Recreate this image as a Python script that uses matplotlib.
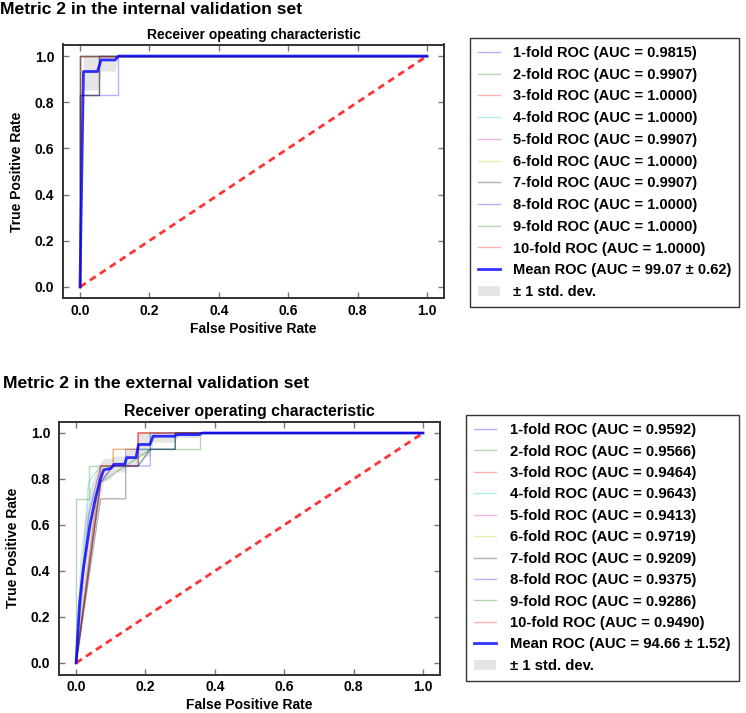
import matplotlib
matplotlib.use("Agg")
import matplotlib.pyplot as plt

plt.rcParams["font.family"] = ["Liberation Sans", "DejaVu Sans"]
plt.rcParams["font.weight"] = "bold"
plt.rcParams["axes.titleweight"] = "bold"
plt.rcParams["axes.labelweight"] = "bold"

W, H = 746, 713

# classic matplotlib colour cycle, one per fold
FOLD_COLORS = ["b", "g", "r", "c", "m", "y", "k", "b", "g", "r"]
CHANCE = [0.0, 1.0]

# ---- internal validation set ----
INT_AUC = [0.9815, 0.9907, 1.0000, 1.0000, 0.9907, 1.0000, 0.9907, 1.0000, 1.0000, 1.0000]
INT_FPR = [
    [0, 0, 0.111, 0.111, 1],
    [0, 0, 0.056, 0.056, 1],
    [0, 0, 1],
    [0, 0, 1],
    [0, 0, 0.056, 0.056, 1],
    [0, 0, 1],
    [0, 0, 0.056, 0.056, 1],
    [0, 0, 1],
    [0, 0, 1],
    [0, 0, 1],
]
INT_TPR = [
    [0, 0.833, 0.833, 1, 1],
    [0, 0.833, 0.833, 1, 1],
    [0, 1, 1],
    [0, 1, 1],
    [0, 0.833, 0.833, 1, 1],
    [0, 1, 1],
    [0, 0.833, 0.833, 1, 1],
    [0, 1, 1],
    [0, 1, 1],
    [0, 1, 1],
]
INT_MEAN_FPR = [0.0, 0.0101, 0.0505, 0.0606, 0.1010, 0.1111, 1.0]
INT_MEAN_TPR = [0.0, 0.933, 0.933, 0.983, 0.983, 1.0, 1.0]
INT_STD_LO = [0.0, 0.852, 0.852, 0.935, 0.935, 1.0, 1.0]
INT_STD_HI = [0.0, 1.0, 1.0, 1.0, 1.0, 1.0, 1.0]
INT_MEAN_AUC, INT_STD_AUC = 99.07, 0.62

# ---- external validation set ----
EXT_AUC = [0.9592, 0.9566, 0.9464, 0.9643, 0.9413, 0.9719, 0.9209, 0.9375, 0.9286, 0.9490]
EXT_FPR = [
    [0, 0.036, 0.071, 0.143, 0.143, 0.214, 0.214, 1],
    [0, 0, 0.036, 0.036, 0.179, 0.179, 0.357, 0.357, 1],
    [0, 0.071, 0.107, 0.107, 0.179, 0.179, 1],
    [0, 0.036, 0.071, 0.179, 0.214, 0.214, 1],
    [0, 0.071, 0.107, 0.179, 0.179, 1],
    [0, 0.071, 0.107, 0.107, 0.179, 0.179, 1],
    [0, 0.071, 0.143, 0.143, 0.179, 0.214, 0.286, 0.286, 1],
    [0, 0.071, 0.107, 0.214, 0.214, 0.286, 0.286, 1],
    [0, 0.071, 0.143, 0.214, 0.286, 0.286, 1],
    [0, 0.071, 0.071, 0.179, 0.179, 1],
]
EXT_TPR = [
    [0, 0.643, 0.857, 0.857, 0.929, 0.929, 1, 1],
    [0, 0.714, 0.714, 0.857, 0.857, 0.929, 0.929, 1, 1],
    [0, 0.857, 0.857, 0.929, 0.929, 1, 1],
    [0, 0.786, 0.857, 0.857, 0.929, 1, 1],
    [0, 0.786, 0.857, 0.857, 1, 1],
    [0, 0.857, 0.857, 0.929, 0.929, 1, 1],
    [0, 0.714, 0.714, 0.857, 0.857, 0.929, 0.929, 1, 1],
    [0, 0.786, 0.857, 0.857, 0.929, 0.929, 1, 1],
    [0, 0.786, 0.857, 0.929, 0.929, 1, 1],
    [0, 0.786, 0.857, 0.857, 1, 1],
]
EXT_MEAN_FPR = [0.0, 0.010, 0.020, 0.030, 0.040, 0.055, 0.070, 0.080, 0.100, 0.110,
                0.140, 0.146, 0.173, 0.180, 0.213, 0.222, 0.283, 0.293, 0.354, 0.364, 1.0]
EXT_MEAN_TPR = [0.0, 0.26, 0.40, 0.50, 0.60, 0.71, 0.80, 0.84, 0.846, 0.864,
                0.864, 0.893, 0.893, 0.95, 0.95, 0.986, 0.986, 0.993, 0.993, 1.0, 1.0]
EXT_STD_LO = [0.0, 0.07, 0.22, 0.32, 0.44, 0.60, 0.73, 0.79, 0.80, 0.83,
              0.83, 0.86, 0.86, 0.90, 0.90, 0.96, 0.96, 0.98, 0.98, 1.0, 1.0]
EXT_STD_HI = [0.0, 0.45, 0.58, 0.68, 0.76, 0.82, 0.87, 0.89, 0.89, 0.90,
              0.90, 0.93, 0.93, 1.0, 1.0, 1.0, 1.0, 1.0, 1.0, 1.0, 1.0]
EXT_MEAN_AUC, EXT_STD_AUC = 94.66, 1.52


def px_rect(left, top, right, bottom):
    return [left / W, 1 - bottom / H, (right - left) / W, (bottom - top) / H]


def draw_panel(ax, fprs, tprs, aucs, mfpr, mtpr, lo, hi, mauc, sauc,
               title, title_size, leg_xy, leg_size, leg_spacing):
    for i, (f, t) in enumerate(zip(fprs, tprs)):
        ax.plot(f, t, color=FOLD_COLORS[i], lw=1, alpha=0.3,
                label=f"{i + 1}-fold ROC (AUC = {aucs[i]:.4f})")
    ax.plot(CHANCE, CHANCE, linestyle="--", color="r", lw=2, alpha=0.8,
            dashes=(2.5, 1.8))
    ax.plot(mfpr, mtpr, color="b", lw=2, alpha=0.8,
            label=f"Mean ROC (AUC = {mauc:.2f} ± {sauc:.2f})")
    ax.fill_between(mfpr, lo, hi, color="grey", alpha=0.2, lw=0,
                    label="± 1 std. dev.")
    ax.set_xlim(-0.05, 1.05)
    ax.set_ylim(-0.05, 1.05)
    ax.set_xticks([0, 0.2, 0.4, 0.6, 0.8, 1.0])
    ax.set_yticks([0, 0.2, 0.4, 0.6, 0.8, 1.0])
    ax.tick_params(direction="in", top=True, right=True, length=4, width=1,
                   color="#777777", labelsize=10)
    ax.tick_params(axis="x", pad=4)
    ax.tick_params(axis="y", pad=6)
    for s in ax.spines.values():
        s.set_linewidth(1.4)
        s.set_color("#333333")
    ax.set_xlabel("False Positive Rate", fontsize=10, labelpad=3)
    ax.set_ylabel("True Positive Rate", fontsize=10, labelpad=8)
    ax.set_title(title, fontsize=title_size, pad=4)
    leg = ax.legend(loc="upper left", bbox_to_anchor=leg_xy,
                    bbox_transform=fig.transFigure, borderaxespad=0,
                    fontsize=leg_size, fancybox=False, framealpha=1,
                    handlelength=1.5, handletextpad=0.9,
                    labelspacing=leg_spacing, borderpad=0.55)
    leg.get_frame().set_edgecolor("#333333")
    leg.get_frame().set_linewidth(1.0)


fig = plt.figure(figsize=(W / 100, H / 100), dpi=100)

ax1 = fig.add_axes(px_rect(62.6, 44.5, 444.3, 298.5))
draw_panel(ax1, INT_FPR, INT_TPR, INT_AUC, INT_MEAN_FPR, INT_MEAN_TPR,
           INT_STD_LO, INT_STD_HI, INT_MEAN_AUC, INT_STD_AUC,
           "Receiver opeating characteristic", 10,
           (470 / W, 1 - 38 / H), 10.5, 0.53)

ax2 = fig.add_axes(px_rect(58.7, 421.5, 440.4, 674.5))
draw_panel(ax2, EXT_FPR, EXT_TPR, EXT_AUC, EXT_MEAN_FPR, EXT_MEAN_TPR,
           EXT_STD_LO, EXT_STD_HI, EXT_MEAN_AUC, EXT_STD_AUC,
           "Receiver operating characteristic", 11.4,
           (466 / W, 1 - 415 / H), 10.7, 0.5)

fig.text(0, 1 - 13.5 / H, "Metric 2 in the internal validation set",
         fontsize=12.6, va="baseline", ha="left")
fig.text(3 / W, 1 - 387.7 / H, "Metric 2 in the external validation set",
         fontsize=12.6, va="baseline", ha="left")

fig.savefig("out.png", dpi=100)
